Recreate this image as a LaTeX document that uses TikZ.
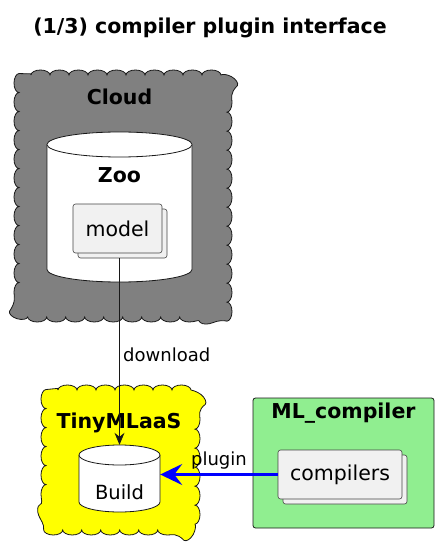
\documentclass[tikz,border=0pt]{standalone}
\usepackage{fontspec}
\setmainfont{DejaVu Sans}
\definecolor{CloudGray}{HTML}{808080}
\definecolor{CloudYellow}{HTML}{FFFF00}
\definecolor{BoxFill}{HTML}{F1F1F1}
\definecolor{LineDark}{HTML}{181818}
\definecolor{GroupGreen}{HTML}{90EE90}
\usetikzlibrary{arrows.meta, decorations.pathmorphing, shadows}
\tikzset{
    nube/.style={
        draw=LineDark, line width=0.8pt,
        decorate, decoration={bumps, segment length=38pt, amplitude=5pt}
    },
    cilindro/.style={draw=LineDark, fill=white, line width=0.8pt},
    grupo/.style={draw=LineDark, fill=GroupGreen, line width=0.8pt, rounded corners=2.5pt},
    artefacto/.style={
        draw=LineDark!80, fill=BoxFill, line width=0.6pt, rounded corners=2.5pt,
        minimum width=89pt, minimum height=49pt, font=\fontsize{20.5}{24}\selectfont,
        copy shadow={shadow xshift=5pt, shadow yshift=-5pt}
    },
    titulo/.style={font=\fontsize{20.5}{24}\selectfont\bfseries},
    nodo/.style={font=\fontsize{19.5}{23}\selectfont},
    etiqueta/.style={font=\fontsize{18}{21}\selectfont},
    descarga/.style={-{Stealth[length=12pt, width=10pt, inset=4pt]}, draw=LineDark, line width=0.8pt},
    enchufe/.style={-{Stealth[length=22pt, width=21pt, inset=8pt]}, draw=blue, line width=3pt}
}
\begin{document}
\begin{tikzpicture}[x=1pt, y=-1pt]

    \useasboundingbox (0,0) rectangle (440,548);

    \node[titulo] (title) at (210,28) {(1/3) compiler plugin interface};

    % Nube Cloud
    \draw[nube, fill=CloudGray] (31,75) -- (215,75) arc[start angle=-90, end angle=0, radius=12]
    -- (227,305) arc[start angle=0, end angle=90, radius=12]
    -- (31,317) arc[start angle=90, end angle=180, radius=12]
    -- (19,87) arc[start angle=180, end angle=270, radius=12] -- cycle;
    \node[titulo] (cloud) at (119.5,97) {Cloud};

    % Base de datos Zoo
    \coordinate (Z1) at (47,144.5);
    \coordinate (Z2) at (192,144.5);
    \draw[cilindro] (Z1) -- ++(0,125)
    arc[start angle=180, end angle=0, x radius=72.5, y radius=12.5]
    -- (Z2) arc[start angle=0, end angle=-180, x radius=72.5, y radius=12.5] -- cycle;
    \draw[cilindro] (Z1) arc[start angle=180, end angle=0, x radius=72.5, y radius=12.5];
    \node (zoo) at (119.5,207) [minimum width=145pt, minimum height=150pt] {};
    \node[titulo] (zooTitle) at (119.5,175) {Zoo};
    \node[artefacto] (model) at (117.5,228.5) {model};

    % Nube TinyMLaaS
    \draw[nube, fill=CloudYellow] (58,390) -- (183,390) arc[start angle=-90, end angle=0, radius=12]
    -- (195,518) arc[start angle=0, end angle=90, radius=12]
    -- (58,530) arc[start angle=90, end angle=180, radius=12]
    -- (46,402) arc[start angle=180, end angle=270, radius=12] -- cycle;
    \node[titulo] (tiny) at (119,423) {TinyMLaaS};

    % Base de datos Build
    \coordinate (B1) at (79,455);
    \coordinate (B2) at (160,455);
    \draw[cilindro] (B1) -- ++(0,47)
    arc[start angle=180, end angle=0, x radius=40.5, y radius=10]
    -- (B2) arc[start angle=0, end angle=-180, x radius=40.5, y radius=10] -- cycle;
    \draw[cilindro] (B1) arc[start angle=180, end angle=0, x radius=40.5, y radius=10];
    \node (build) at (119.5,478.5) [minimum width=81pt, minimum height=67pt, inner sep=0pt] {};
    \node[nodo] (buildText) at (119.5,492) {Build};

    % Paquete ML_compiler
    \node[grupo, minimum width=181pt, minimum height=130pt] (mlcompiler) at (343.5,463) {};
    \node[titulo] (mlTitle) at (343.5,413) {ML\_compiler};
    \node[artefacto, minimum width=124pt] (compilers) at (340,474.5) {compilers};

    % Conexiones
    \draw[descarga] ([yshift=-5pt]model.south -| build.north) -- (build.north)
    node[etiqueta, pos=0.52, right] {download};
    \draw[enchufe] (compilers.west) -- (compilers.west -| build.east)
    node[etiqueta, midway, above] {plugin};

\end{tikzpicture}
\end{document}
